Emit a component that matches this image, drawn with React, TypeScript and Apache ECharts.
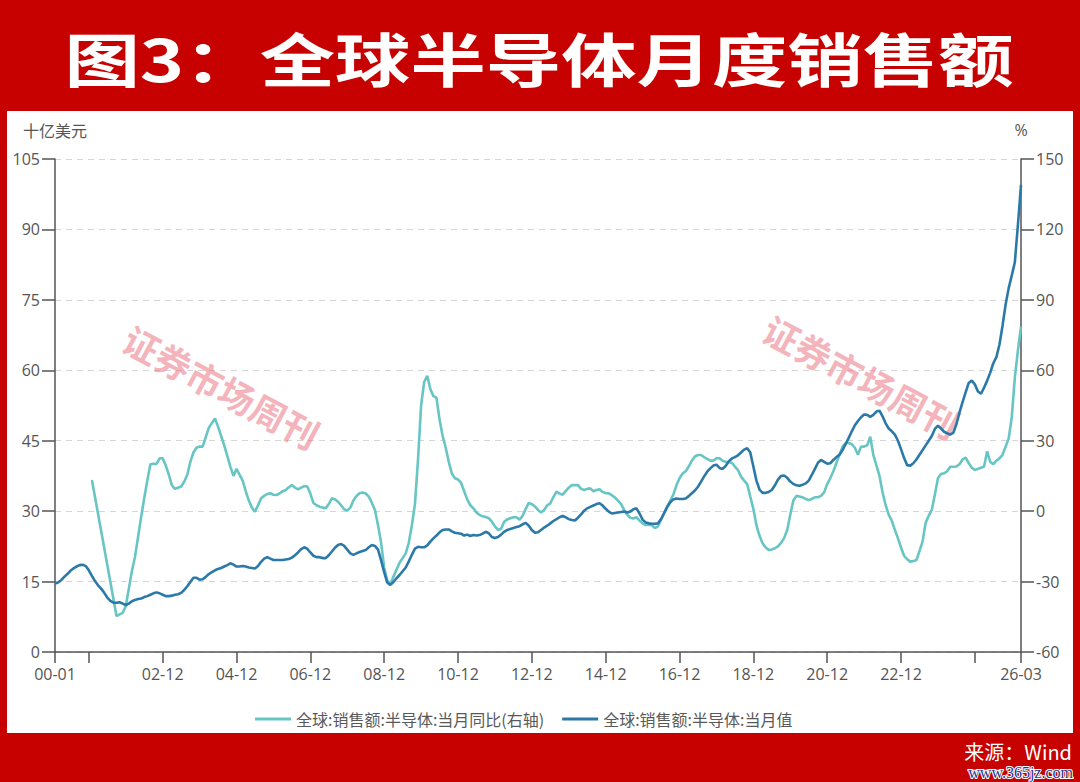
import React, { useEffect, useRef } from "react";
import * as echarts from "echarts";

// ---- categories: monthly 2000-01 .. 2026-03 ----
const firstYear = 2000;
const lastYear = 2026;
const lastMonth = 3;
const months: string[] = [];
for (let y = firstYear; y <= lastYear; y++) {
  for (let m = 1; m <= 12; m++) {
    if (y === lastYear && m > lastMonth) break;
    months.push(`${y}-${String(m).padStart(2, "0")}`);
  }
}

// ---- 全球:销售额:半导体:当月值 (十亿美元), one row per year ----
const salesValueByYear: number[][] = [
  [14.6, 14.8, 15.3, 16.0, 16.6, 17.3, 17.8, 18.2, 18.5, 18.6, 18.3, 17.4], // 2000
  [16.2, 15.1, 14.2, 13.5, 12.6, 11.6, 10.9, 10.5, 10.5, 10.6, 10.3, 10.0], // 2001
  [10.3, 10.8, 11.1, 11.3, 11.4, 11.7, 11.9, 12.2, 12.5, 12.7, 12.5, 12.2], // 2002
  [11.9, 11.9, 12.0, 12.2, 12.3, 12.6, 13.2, 14.0, 14.9, 15.8, 15.8, 15.4], // 2003
  [15.5, 16.0, 16.6, 17.0, 17.4, 17.7, 17.9, 18.2, 18.5, 18.9, 18.6, 18.2], // 2004
  [18.2, 18.3, 18.2, 18.0, 17.9, 17.8, 18.3, 19.2, 19.9, 20.2, 19.9, 19.6], // 2005
  [19.6, 19.6, 19.6, 19.7, 19.8, 20.1, 20.6, 21.2, 21.9, 22.3, 22.0, 21.2], // 2006
  [20.5, 20.2, 20.2, 20.0, 20.0, 20.6, 21.4, 22.2, 22.8, 23.0, 22.6, 21.8], // 2007
  [21.0, 20.7, 21.0, 21.3, 21.5, 21.7, 22.3, 22.8, 22.6, 21.8, 19.5, 17.0], // 2008
  [14.8, 14.3, 14.9, 15.7, 16.4, 17.2, 18.0, 19.3, 20.7, 22.0, 22.4, 22.3], // 2009
  [22.3, 22.7, 23.5, 24.2, 24.8, 25.5, 26.0, 26.1, 26.1, 25.7, 25.4, 25.3], // 2010
  [25.2, 24.8, 25.0, 24.7, 24.9, 24.8, 24.9, 25.2, 25.6, 25.3, 24.5, 24.3], // 2011
  [24.5, 25.0, 25.6, 26.0, 26.2, 26.4, 26.6, 26.8, 27.2, 27.5, 26.9, 26.0], // 2012
  [25.4, 25.5, 26.0, 26.5, 26.9, 27.4, 27.9, 28.3, 28.7, 29.0, 28.7, 28.3], // 2013
  [28.1, 28.0, 28.6, 29.3, 30.1, 30.6, 30.9, 31.2, 31.5, 31.7, 31.2, 30.5], // 2014
  [29.9, 29.5, 29.6, 29.7, 29.8, 29.9, 29.7, 29.9, 30.4, 30.6, 29.5, 28.2], // 2015
  [27.6, 27.4, 27.3, 27.3, 27.4, 28.3, 29.6, 30.9, 31.9, 32.5, 32.7, 32.6], // 2016
  [32.6, 32.7, 33.2, 33.8, 34.4, 35.2, 36.3, 37.4, 38.4, 39.1, 39.7, 39.9], // 2017
  [39.2, 39.0, 39.6, 40.6, 41.2, 41.5, 41.9, 42.5, 43.1, 43.4, 42.5, 39.5], // 2018
  [36.5, 34.6, 33.9, 33.9, 34.1, 34.5, 35.5, 36.7, 37.5, 37.6, 37.1, 36.3], // 2019
  [35.8, 35.5, 35.4, 35.6, 35.9, 36.5, 37.7, 39.0, 40.3, 40.9, 40.5, 40.1], // 2020
  [40.2, 40.9, 41.5, 42.0, 43.0, 44.3, 45.6, 47.0, 48.3, 49.2, 50.0, 50.6], // 2021
  [50.5, 50.1, 50.5, 51.2, 51.4, 50.2, 48.7, 47.6, 47.0, 46.3, 45.0, 43.2], // 2022
  [41.3, 39.8, 39.7, 40.2, 41.0, 42.0, 43.0, 44.0, 45.0, 46.0, 47.5, 48.2], // 2023
  [47.6, 46.9, 46.6, 46.3, 46.7, 48.5, 51.0, 53.2, 55.3, 57.3, 57.8, 57.0], // 2024
  [55.5, 55.0, 56.3, 57.8, 59.5, 61.5, 62.8, 65.5, 69.5, 74.0, 77.5, 80.2], // 2025
  [83.0, 91.0, 99.5], // 2026
];

// ---- 全球:销售额:半导体:当月同比 (%), right axis; null = no data ----
const salesYoYByYear: (number | null)[][] = [
  [null, null, null, null, null, null, null, null, null, null, null, null], // 2000
  [13.3, null, null, null, null, null, null, null, -44.7, -44.0, -43.3, -40.5], // 2001
  [-33.0, -25.5, -19.5, -11.0, -2.5, 5.5, 13.0, 20.0, 20.2, 20.1, 22.5, 22.5], // 2002
  [19.5, 15.5, 11.0, 9.5, 10.0, 10.5, 12.5, 15.5, 21.0, 25.0, 27.0, 27.5], // 2003
  [27.5, 31.5, 35.5, 37.5, 39.5, 36.0, 32.0, 28.0, 23.5, 19.0, 15.0, 18.0], // 2004
  [15.5, 13.0, 8.5, 4.5, 1.5, -0.2, 2.5, 5.5, 6.5, 7.3, 7.6, 7.0], // 2005
  [6.9, 7.5, 8.5, 9.0, 10.2, 11.1, 10.0, 9.3, 10.0, 10.7, 10.5, 7.5], // 2006
  [3.5, 2.5, 1.9, 1.5, 1.2, 3.0, 5.5, 5.0, 4.0, 2.5, 0.8, 0.2], // 2007
  [1.5, 4.5, 6.5, 7.6, 7.9, 7.5, 6.2, 3.5, 0.5, -6.0, -13.5, -24.0], // 2008
  [-29.5, -31.0, -28.0, -25.0, -22.0, -20.0, -18.0, -13.5, -6.0, 3.0, 22.0, 45.0], // 2009
  [55.0, 57.6, 52.0, 49.0, 48.3, 39.0, 32.0, 27.0, 21.0, 16.0, 14.0, 13.5], // 2010
  [12.0, 8.5, 5.0, 2.5, 1.2, -0.6, -1.6, -2.2, -2.5, -3.0, -4.5, -6.5], // 2011
  [-8.0, -7.5, -4.5, -3.5, -3.0, -2.6, -2.6, -3.6, -2.0, 1.0, 3.5, 3.0], // 2012
  [2.0, 0.5, -0.6, 0.5, 2.5, 3.3, 6.0, 8.3, 7.5, 7.0, 8.5, 10.0], // 2013
  [11.1, 11.1, 11.1, 9.5, 9.0, 9.5, 9.7, 8.5, 9.0, 9.3, 8.2, 7.6], // 2014
  [7.6, 6.8, 5.8, 4.5, 3.0, 0.5, -1.5, -2.8, -3.1, -2.6, -4.0, -5.2], // 2015
  [-5.9, -5.9, -6.0, -7.2, -6.5, -3.5, -1.0, 2.0, 4.5, 7.0, 11.0, 14.0], // 2016
  [16.0, 17.0, 19.0, 21.5, 23.3, 23.9, 23.9, 23.0, 22.3, 21.5, 21.5, 22.5], // 2017
  [22.5, 21.5, 21.0, 20.8, 20.6, 19.0, 17.5, 14.7, 13.0, 11.5, 6.2, 1.0], // 2018
  [-6.0, -10.5, -13.7, -15.5, -16.6, -16.3, -15.8, -15.0, -13.5, -11.5, -8.0, -1.5], // 2019
  [4.5, 6.5, 6.2, 5.9, 5.2, 4.7, 5.2, 5.9, 5.9, 6.5, 8.0, 11.5], // 2020
  [14.0, 17.0, 20.5, 24.0, 27.5, 29.0, 29.0, 28.5, 27.0, 24.0, 27.5, 27.5], // 2021
  [28.0, 31.7, 24.0, 19.5, 15.0, 8.0, 2.5, -1.5, -4.0, -8.0, -11.5, -15.5], // 2022
  [-19.0, -20.5, -21.5, -21.3, -20.8, -17.0, -13.0, -5.0, -2.0, 0.5, 7.0, 14.0], // 2023
  [15.8, 16.1, 17.0, 18.9, 18.9, 19.0, 20.0, 22.0, 22.8, 20.5, 18.5, 17.5], // 2024
  [18.0, 18.5, 19.0, 25.5, 21.0, 20.0, 21.5, 22.5, 24.0, 27.5, 31.0, 40.0], // 2025
  [57.0, 68.5, 78.6], // 2026
];

const salesValue: number[] = salesValueByYear.flat();
const salesYoY: (number | null)[] = salesYoYByYear.flat();

const seriesNames = ["全球:销售额:半导体:当月同比(右轴)", "全球:销售额:半导体:当月值"];
const leftTicks = { min: 0, max: 105, interval: 15 };
const rightTicks = { min: -60, max: 150, interval: 30 };
const hiddenLabelYears = [2000, 2024];

const TEAL = "#67C5C4";
const BLUE = "#2A79A8";
const AXIS = "#555555";
const LABEL = "#555555";

const lastIndex = months.length - 1;
const isTick = (i: number) => {
  const [y, m] = months[i].split("-");
  return i === 0 || i === lastIndex || (m === "12" && Number(y) % 2 === 0);
};
const isLabel = (i: number) => {
  const [y] = months[i].split("-");
  if (i === 0 || i === lastIndex) return true;
  return isTick(i) && !hiddenLabelYears.includes(Number(y));
};

export default function App() {
  const ref = useRef<HTMLDivElement>(null);

  useEffect(() => {
    if (!ref.current) return;
    const chart = echarts.init(ref.current, undefined, { renderer: "svg" });
    const cjk = "'Noto Sans CJK SC', sans-serif";
    const num = "'Open Sans', 'Noto Sans CJK SC', sans-serif";
    chart.setOption({
      animation: false,
      backgroundColor: "transparent",
      textStyle: { fontFamily: num },
      grid: { left: 55, right: 59, top: 159, bottom: 130, containLabel: false },
      legend: {
        left: 250,
        top: 706,
        icon: "rect",
        itemWidth: 36,
        itemHeight: 3,
        itemGap: 18,
        textStyle: { fontSize: 16, color: "#595959", fontFamily: cjk },
        data: seriesNames,
      },
      xAxis: {
        type: "category",
        data: months,
        boundaryGap: false,
        axisLine: { onZero: false, lineStyle: { color: AXIS, width: 1.5 } },
        axisTick: {
          show: true,
          interval: (i: number) => isTick(i),
          length: 11,
          lineStyle: { color: AXIS, width: 1.5 },
        },
        axisLabel: {
          interval: (i: number) => isLabel(i),
          formatter: (v: string) => v.slice(2),
          color: LABEL,
          fontSize: 16,
          margin: 14,
          fontFamily: num,
        },
        splitLine: { show: false },
      },
      yAxis: [
        {
          type: "value",
          position: "left",
          ...leftTicks,
          name: "十亿美元",
          nameLocation: "end",
          nameGap: 21,
          nameTextStyle: { color: LABEL, fontSize: 16, fontFamily: cjk, align: "center" },
          axisLine: { show: true, lineStyle: { color: AXIS, width: 1.5 } },
          axisTick: { show: true, length: 13, lineStyle: { color: AXIS, width: 1.5 } },
          axisLabel: { color: LABEL, fontSize: 16, margin: 15, fontFamily: num },
          splitLine: { show: true, lineStyle: { type: [6, 5], color: "#d6d6d6", width: 1.2 } },
        },
        {
          type: "value",
          position: "right",
          ...rightTicks,
          name: "%",
          nameLocation: "end",
          nameGap: 21,
          nameTextStyle: { color: LABEL, fontSize: 16, fontFamily: num, align: "center" },
          axisLine: { show: true, lineStyle: { color: AXIS, width: 1.5 } },
          axisTick: { show: true, length: 13, lineStyle: { color: AXIS, width: 1.5 } },
          axisLabel: { color: LABEL, fontSize: 16, margin: 15, fontFamily: num },
          splitLine: { show: false },
        },
      ],
      series: [
        {
          name: seriesNames[0],
          type: "line",
          yAxisIndex: 1,
          data: salesYoY,
          symbol: "none",
          showSymbol: false,
          connectNulls: true,
          lineStyle: { color: TEAL, width: 2.6 },
          itemStyle: { color: TEAL },
          z: 3,
        },
        {
          name: seriesNames[1],
          type: "line",
          yAxisIndex: 0,
          data: salesValue,
          symbol: "none",
          showSymbol: false,
          lineStyle: { color: BLUE, width: 2.6 },
          itemStyle: { color: BLUE },
          z: 4,
        },
      ],
      graphic: [
        {
          type: "text",
          x: 539,
          y: 57,
          scaleX: 1.3,
          style: {
            text: "图3：全球半导体月度销售额",
            fill: "#ffffff",
            font: `bold 58px ${cjk}`,
            textAlign: "center",
            align: "center",
            textVerticalAlign: "middle",
            verticalAlign: "middle",
          },
        },
        {
          type: "text",
          x: 222,
          y: 386,
          rotation: -0.49,
          z: 1,
          style: {
            text: "证券市场周刊",
            fill: "rgba(232, 105, 120, 0.5)",
            font: `bold 36px ${cjk}`,
            textAlign: "center",
            align: "center",
            textVerticalAlign: "middle",
            verticalAlign: "middle",
          },
        },
        {
          type: "text",
          x: 862,
          y: 376,
          rotation: -0.49,
          z: 1,
          style: {
            text: "证券市场周刊",
            fill: "rgba(232, 105, 120, 0.5)",
            font: `bold 36px ${cjk}`,
            textAlign: "center",
            align: "center",
            textVerticalAlign: "middle",
            verticalAlign: "middle",
          },
        },
        {
          type: "text",
          x: 1072,
          y: 751,
          style: {
            text: "来源：Wind",
            fill: "#ffffff",
            font: `20px ${cjk}`,
            textAlign: "right",
            align: "right",
            textVerticalAlign: "middle",
            verticalAlign: "middle",
          },
        },
        {
          type: "text",
          x: 1073,
          y: 772,
          z: 5,
          style: {
            text: "www.365jz.com",
            fill: "#1a3c8e",
            stroke: "#ffffff",
            lineWidth: 2,
            font: `16px 'Liberation Serif', serif`,
            textAlign: "right",
            align: "right",
            textVerticalAlign: "middle",
            verticalAlign: "middle",
          },
        },
      ],
    });
    return () => chart.dispose();
  }, []);

  return (
    <div
      style={{
        position: "fixed",
        left: 0,
        top: 0,
        width: 1080,
        height: 782,
        background: "#C70000",
        overflow: "hidden",
      }}
    >
      <div
        style={{
          position: "absolute",
          left: 7,
          top: 111,
          width: 1066,
          height: 622,
          background: "#ffffff",
        }}
      />
      <div ref={ref} style={{ position: "absolute", left: 0, top: 0, width: 1080, height: 782 }} />
    </div>
  );
}
